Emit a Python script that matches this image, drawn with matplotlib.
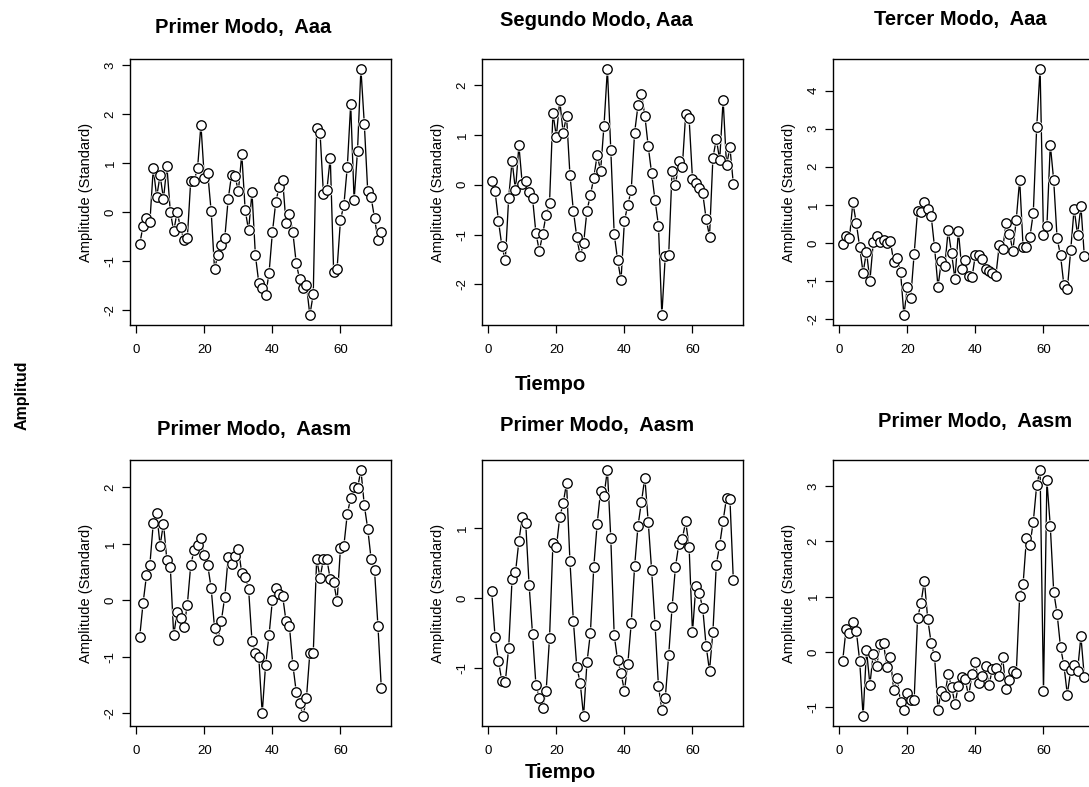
import numpy as np
import matplotlib
matplotlib.use("Agg")
import matplotlib.pyplot as plt
from matplotlib.ticker import MultipleLocator

plt.rcParams["font.family"] = ["Liberation Sans", "DejaVu Sans"]
plt.rcParams["axes.unicode_minus"] = False

# time index, 72 samples per series
tiempo = np.arange(1, 73)

primer_aaa = [
    -0.66, -0.28, -0.12, -0.21, 0.90, 0.31, 0.75, 0.27, 0.94, 0.01,
    -0.39, 0.00, -0.31, -0.57, -0.53, 0.64, 0.64, 0.89, 1.78, 0.69,
    0.79, 0.02, -1.16, -0.87, -0.68, -0.53, 0.26, 0.76, 0.73, 0.43,
    1.18, 0.04, -0.37, 0.40, -0.88, -1.44, -1.55, -1.69, -1.25, -0.41,
    0.21, 0.52, 0.66, -0.23, -0.03, -0.41, -1.04, -1.37, -1.55, -1.49,
    -2.10, -1.67, 1.72, 1.61, 0.36, 0.45, 1.11, -1.23, -1.15, -0.16,
    0.15, 0.92, 2.20, 0.24, 1.25, 2.92, 1.80, 0.43, 0.30, -0.12,
    -0.57, -0.41]

segundo_aaa = [
    0.07, -0.13, -0.73, -1.23, -1.52, -0.26, 0.48, -0.11, 0.79, 0.01,
    0.07, -0.14, -0.26, -0.97, -1.33, -0.99, -0.60, -0.36, 1.44, 0.97,
    1.70, 1.05, 1.38, 0.20, -0.52, -1.05, -1.43, -1.18, -0.52, -0.21,
    0.14, 0.60, 0.28, 1.19, 2.33, 0.70, -0.99, -1.51, -1.92, -0.73,
    -0.40, -0.11, 1.05, 1.60, 1.83, 1.39, 0.77, 0.23, -0.31, -0.82,
    -2.62, -1.44, -1.42, 0.28, 0.00, 0.47, 0.35, 1.42, 1.34, 0.12,
    0.03, -0.07, -0.17, -0.68, -1.04, 0.54, 0.92, 0.50, 1.71, 0.39,
    0.75, 0.02]

tercer_aaa = [
    -0.02, 0.17, 0.13, 1.06, 0.52, -0.11, -0.79, -0.23, -1.00, 0.02,
    0.17, 0.02, 0.07, 0.00, 0.05, -0.50, -0.40, -0.76, -1.90, -1.16,
    -1.44, -0.29, 0.83, 0.80, 1.06, 0.90, 0.71, -0.12, -1.15, -0.49,
    -0.61, 0.33, -0.28, -0.96, 0.31, -0.68, -0.45, -0.86, -0.91, -0.31,
    -0.31, -0.43, -0.69, -0.74, -0.78, -0.87, -0.07, -0.17, 0.52, 0.24,
    -0.21, 0.61, 1.66, -0.10, -0.10, 0.15, 0.78, 3.03, 4.57, 0.21,
    0.43, 2.58, 1.64, 0.12, -0.33, -1.11, -1.22, -0.19, 0.90, 0.21,
    0.96, -0.35]

aasm_izq = [
    -0.65, -0.05, 0.44, 0.63, 1.37, 1.55, 0.97, 1.36, 0.71, 0.59,
    -0.62, -0.21, -0.32, -0.47, -0.08, 0.62, 0.89, 0.98, 1.11, 0.81,
    0.62, 0.22, -0.49, -0.70, -0.36, 0.06, 0.76, 0.64, 0.79, 0.91,
    0.48, 0.41, 0.20, -0.72, -0.93, -1.01, -2.00, -1.14, -0.62, 0.01,
    0.21, 0.11, 0.08, -0.37, -0.46, -1.14, -1.62, -1.81, -2.05, -1.73,
    -0.93, -0.93, 0.73, 0.40, 0.73, 0.73, 0.37, 0.32, -0.02, 0.93,
    0.97, 1.53, 1.81, 2.01, 1.98, 2.31, 1.68, 1.27, 0.73, 0.53,
    -0.45, -1.56]

aasm_centro = [
    0.10, -0.55, -0.90, -1.19, -1.20, -0.71, 0.28, 0.37, 0.82, 1.17,
    1.08, 0.19, -0.51, -1.24, -1.43, -1.58, -1.33, -0.57, 0.79, 0.73,
    1.16, 1.36, 1.65, 0.53, -0.32, -0.98, -1.21, -1.69, -0.92, -0.50,
    0.45, 1.07, 1.54, 1.47, 1.84, 0.86, -0.53, -0.89, -1.07, -1.33,
    -0.94, -0.36, 0.46, 1.04, 1.38, 1.73, 1.09, 0.40, -0.38, -1.26,
    -1.60, -1.43, -0.82, -0.13, 0.45, 0.78, 0.85, 1.10, 0.74, -0.49,
    0.18, 0.07, -0.14, -0.68, -1.04, -0.48, 0.48, 0.77, 1.11, 1.44,
    1.42, 0.26]

aasm_der = [
    -0.16, 0.41, 0.35, 0.54, 0.38, -0.16, -1.16, 0.04, -0.59, -0.03,
    -0.25, 0.14, 0.16, -0.28, -0.10, -0.69, -0.47, -0.91, -1.05, -0.75,
    -0.86, -0.86, 0.61, 0.88, 1.29, 0.59, 0.16, -0.08, -1.04, -0.71,
    -0.80, -0.40, -0.63, -0.94, -0.61, -0.46, -0.49, -0.80, -0.40, -0.19,
    -0.57, -0.43, -0.25, -0.59, -0.31, -0.29, -0.44, -0.10, -0.67, -0.51,
    -0.34, -0.38, 1.01, 1.22, 2.06, 1.93, 2.35, 3.01, 3.29, -0.71,
    3.10, 2.27, 1.09, 0.69, 0.09, -0.24, -0.77, -0.33, -0.23, -0.34,
    0.28, -0.46]

series = [primer_aaa, segundo_aaa, tercer_aaa, aasm_izq, aasm_centro, aasm_der]
titles = ["Primer Modo,  Aaa", "Segundo Modo, Aaa", "Tercer Modo,  Aaa",
          "Primer Modo,  Aasm", "Primer Modo,  Aasm", "Primer Modo,  Aasm"]

W, H = 1089, 787
# panel boxes in pixels
col_left = [130, 482, 833]
box_w = 261
row_top = [59, 460]
box_h = 266
title_pos = [(243, 28), (596, 20), (960, 19), (254, 430), (597, 425), (975, 422)]


def draw_panel(ax, y, title, tx, ty):
    ax.plot(tiempo, y, "-", color="black", lw=0.95, zorder=1)
    # white halo so lines stop short of the points, like R's type="b"
    ax.plot(tiempo, y, "o", ms=8.8, mfc="white", mec="white", mew=0, zorder=2)
    ax.plot(tiempo, y, "o", ms=6.8, mfc="white", mec="black", mew=0.95, zorder=3)
    ax.margins(x=0.04, y=0.04)
    ax.yaxis.set_major_locator(MultipleLocator(1))
    ax.set_xticks([0, 20, 40, 60])
    ax.tick_params(direction="out", length=5.5, width=0.9, labelsize=9.5,
                   top=False, right=False)
    ax.tick_params(axis="x", pad=8)
    ax.tick_params(axis="y", pad=4, labelrotation=90)
    for lab in ax.get_yticklabels():
        lab.set_va("center")
    for s in ax.spines.values():
        s.set_linewidth(1.0)
    ax.text(-44 / box_w, 0.5, "Amplitude (Standard)", transform=ax.transAxes,
            rotation=90, ha="center", va="center", fontsize=10.5)
    fig.text(tx / W, 1 - ty / H, title, ha="center", va="center",
             fontsize=14.5, fontweight="bold")


fig = plt.figure(figsize=(W / 100, H / 100), dpi=100)
for i, (y, title) in enumerate(zip(series, titles)):
    r, c = divmod(i, 3)
    left = col_left[c] / W
    bottom = 1 - (row_top[r] + box_h) / H
    ax = fig.add_axes([left, bottom, box_w / W, box_h / H])
    tx, ty = title_pos[i]
    draw_panel(ax, y, title, tx, ty)

fig.text(550 / W, 1 - 384 / H, "Tiempo", ha="center", va="center",
         fontsize=14.5, fontweight="bold")
fig.text(560 / W, 1 - 773 / H, "Tiempo", ha="center", va="center",
         fontsize=14.5, fontweight="bold")
fig.text(22 / W, 1 - 395 / H, "Amplitud", rotation=90, ha="center",
         va="center", fontsize=11.5, fontweight="bold")

fig.savefig("out.png", dpi=100)
